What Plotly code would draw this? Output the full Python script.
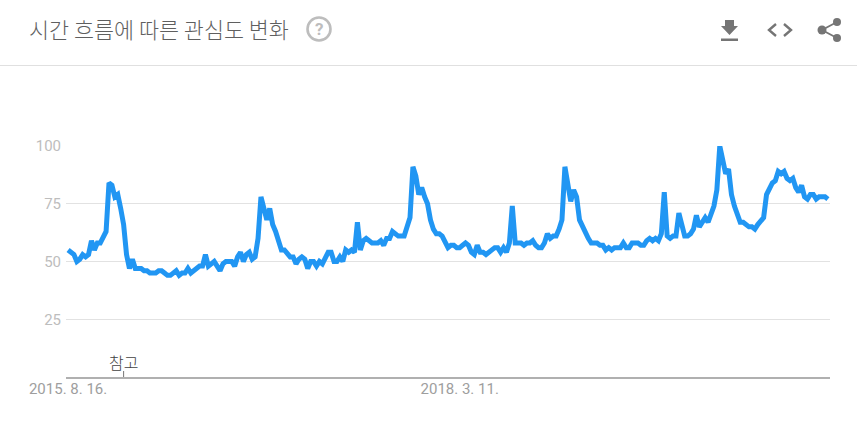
import pandas as pd
import plotly.graph_objects as go

# weekly interest values
interest_2015_16 = [55, 54, 53, 50, 51, 53, 52, 53, 59, 55, 58, 58, 61, 63, 84, 83, 78, 79, 73, 66,
                    53, 47, 51, 47, 47, 47, 46, 46, 45, 45, 45, 46, 46, 45, 44, 44, 45, 46, 44, 45,
                    45, 47, 45, 46, 47, 48, 48, 53, 48, 49, 50, 48, 46, 49, 50, 50, 50, 48, 52, 54,
                    50, 53, 54, 51, 52, 60, 78, 73, 68, 73, 66, 63, 59, 55, 55, 53, 52, 52, 49, 51]
interest_2017 = [52, 51, 47, 50, 50, 48, 50, 49, 51, 54, 54, 50, 50, 52, 50, 55, 54, 55, 54, 67,
                 55, 59, 60, 59, 58, 58, 58, 59, 57, 60, 60, 63, 62, 61, 61, 61, 65, 69]
interest_2018 = [91, 87, 79, 82, 78, 75, 68, 64, 62, 62, 61, 59, 56, 57, 57, 56, 56, 57, 58, 57,
                 54, 53, 57, 54, 54, 53, 54, 55, 56, 56, 54, 56, 54, 58, 74, 58, 58, 58, 57, 58,
                 58, 59, 57, 56, 56, 58, 62, 60, 61, 61, 64, 68]
interest_2019 = [91, 82, 76, 81, 78, 68, 65, 63, 60, 58, 58, 58, 57, 57, 55, 56, 55, 56, 56, 56,
                 58, 56, 56, 58, 58, 58, 57, 57, 59, 60, 59, 60, 59, 62, 80, 61, 60, 61, 61, 71,
                 66, 61, 61, 62, 64, 70, 65, 67, 69, 67, 71, 74, 81]
interest_2020 = [100, 94, 88, 90, 79, 74, 71, 67, 67, 66, 65, 65, 64, 66, 68, 69, 79, 82, 84, 85,
                 89, 88, 89, 86, 85, 86, 82, 80, 83, 78, 77, 79, 79, 77, 78, 78, 78, 77]
interest = interest_2015_16 + interest_2017 + interest_2018 + interest_2019 + interest_2020
weeks = pd.date_range("2015-08-16", periods=len(interest), freq="7D")

y_ticks = [25, 50, 75, 100]
x_ticks = ["2015-08-16", "2018-03-11"]
x_tick_labels = ["2015. 8. 16.", "2018. 3. 11."]
title = "시간 흐름에 따른 관심도 변화"
note_date = "2015-12-27"
note_text = "참고"

W, H = 857, 435
L, R, T, B = 66, 27, 146, 58


def px(x):
    return (x - L) / (W - L - R)


def py(y):
    return 1 - (y - T) / (H - T - B)


def icon_path(points):
    return "M" + " L".join(f"{px(a)},{py(b)}" for a, b in points)


def dot(cx, cy, r, **kw):
    return dict(type="circle", xref="paper", yref="paper", x0=px(cx - r), x1=px(cx + r),
                y0=py(cy + r), y1=py(cy - r), **kw)


grey = "#757575"
line_grey = dict(color=grey, width=2.4)
shapes = [
    dict(type="line", xref="paper", yref="paper", x0=px(0), x1=px(W), y0=py(65.5), y1=py(65.5),
         line=dict(color="#e0e0e0", width=1)),
    dot(319, 29, 11.5, line=dict(color="#bdbdbd", width=2.6)),
    # download
    dict(type="path", xref="paper", yref="paper", line_width=0, fillcolor=grey,
         path=icon_path([(725, 20), (734, 20), (734, 26), (738, 26), (729.5, 35), (721, 26), (725, 26)]) + " Z"),
    dict(type="rect", xref="paper", yref="paper", line_width=0, fillcolor=grey,
         x0=px(721), x1=px(738), y0=py(41), y1=py(38.5)),
    # code
    dict(type="path", xref="paper", yref="paper", line=line_grey,
         path=icon_path([(776, 24), (769, 30), (776, 36)])),
    dict(type="path", xref="paper", yref="paper", line=line_grey,
         path=icon_path([(784, 24), (791, 30), (784, 36)])),
    # share
    dict(type="path", xref="paper", yref="paper", line=dict(color=grey, width=1.8),
         path=icon_path([(837, 22), (822, 30), (837, 38)])),
    dot(837, 22, 4, line_width=0, fillcolor=grey),
    dot(822, 30, 4.5, line_width=0, fillcolor=grey),
    dot(837, 38, 4, line_width=0, fillcolor=grey),
    # note tick
    dict(type="line", xref="x", yref="y", x0=note_date, x1=note_date, y0=0, y1=2.6,
         line=dict(color="#757575", width=1)),
]

annotations = [
    dict(text=title, xref="paper", yref="paper", x=px(27), y=py(29), xanchor="left", yanchor="middle",
         showarrow=False, font=dict(family="Noto Sans CJK KR", size=21.8, color="#5f5f5f", weight=300)),
    dict(text="?", xref="paper", yref="paper", x=px(319), y=py(29), xanchor="center", yanchor="middle",
         showarrow=False, font=dict(family="Roboto", size=17, color="#bdbdbd", weight="bold")),
    dict(text=note_text, xref="x", yref="y", x=note_date, y=0, yshift=1, xanchor="center", yanchor="bottom",
         showarrow=False, font=dict(family="Noto Sans CJK KR", size=16, color="#424242", weight=300)),
]

fig = go.Figure(go.Scatter(x=weeks, y=interest, mode="lines", cliponaxis=False,
                           line=dict(color="#2196f3", width=5, shape="linear")))
fig.update_layout(
    width=W, height=H, margin=dict(l=L, r=R, t=T, b=B), showlegend=False,
    paper_bgcolor="white", plot_bgcolor="white",
    shapes=shapes, annotations=annotations,
    font=dict(family="Roboto"),
)
fig.update_xaxes(range=["2015-08-11", "2020-08-14"], tickvals=x_ticks, ticktext=x_tick_labels,
                 showgrid=False, showline=True, linecolor="#b0b0b0", linewidth=1.5, ticks="",
                 tickfont=dict(size=15, color="#9e9e9e"), ticklabelstandoff=-3)
fig.update_yaxes(range=[0, 100], tickvals=y_ticks, gridcolor="#e2e2e2", gridwidth=1.3, zeroline=False,
                 ticks="", tickfont=dict(size=15, color="#bdbdbd"), ticklabelstandoff=4)
fig.write_html("out.html", post_script="document.body.style.margin='0';",
               config={"displayModeBar": False})
